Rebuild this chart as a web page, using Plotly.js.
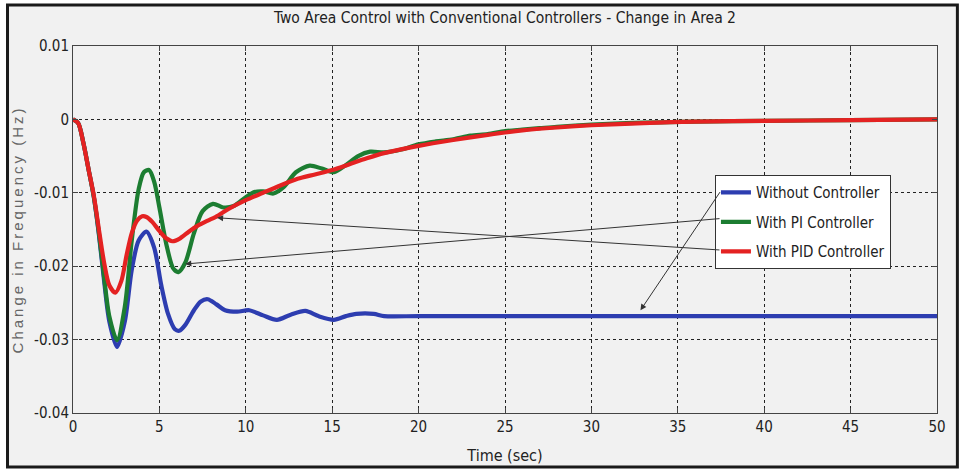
<!DOCTYPE html>
<html><head><meta charset="utf-8">
<script src="https://cdn.plot.ly/plotly-3.0.1.min.js"></script>
<style>html,body{margin:0;padding:0;background:#fff;} #chart{width:963px;height:472px;}</style>
</head><body><div id="chart"></div>
<script>
// ---- data ----
const seriesNames = ["Without Controller", "With PI Controller", "With PID Controller"];

const tBlue = [0,0.3,0.6,0.9,1.2,1.5,1.8,2.1,2.55,3.0,3.4,3.8,4.25,4.7,5.1,5.5,5.9,6.15,6.5,7.0,7.4,7.8,8.3,8.8,9.5,10.2,11,11.8,12.6,13.45,14.2,15.1,15.8,16.4,17.4,18,20,25,30,35,40,45,50];
const yBlue = [0,-0.0005,-0.0032,-0.0068,-0.0105,-0.0157,-0.0220,-0.0275,-0.0310,-0.0275,-0.0205,-0.0165,-0.0153,-0.0175,-0.0225,-0.0265,-0.0286,-0.0288,-0.0280,-0.0260,-0.0248,-0.0245,-0.0252,-0.0260,-0.0262,-0.0260,-0.0267,-0.0273,-0.0266,-0.0261,-0.0268,-0.0273,-0.0268,-0.0265,-0.0265,-0.0268,-0.0268,-0.0268,-0.0268,-0.0268,-0.0268,-0.0268,-0.0268];

const tPI = [0,0.3,0.6,0.9,1.2,1.5,1.8,2.1,2.55,3.0,3.4,3.8,4.1,4.4,4.7,5.0,5.4,5.8,6.1,6.5,7.0,7.5,8.1,8.7,9.3,10,10.5,11,11.6,12.2,12.9,13.7,14.4,15.1,15.8,16.5,17.2,18,19,20,21,22,23,24,25,26,27,28,30,32,34,36,40,45,50];
const yPI = [0,-0.0005,-0.0032,-0.0068,-0.0105,-0.0155,-0.0215,-0.0268,-0.0301,-0.0255,-0.0165,-0.0095,-0.0072,-0.0069,-0.0085,-0.0120,-0.0170,-0.0203,-0.0208,-0.0195,-0.0155,-0.0125,-0.0115,-0.0120,-0.0118,-0.0106,-0.0099,-0.0098,-0.0101,-0.0092,-0.0072,-0.0063,-0.0067,-0.0072,-0.0062,-0.0050,-0.0044,-0.0045,-0.0041,-0.0034,-0.0030,-0.0027,-0.0022,-0.0020,-0.0016,-0.0014,-0.0012,-0.0010,-0.0007,-0.0005,-0.0004,-0.0003,-0.0002,-0.0001,0];

const tPID = [0,0.3,0.6,0.9,1.2,1.5,1.8,2.1,2.45,2.8,3.1,3.4,3.7,4.0,4.25,4.6,5.0,5.4,5.75,6.2,6.7,7.2,7.8,8.4,9,10,11,12,13,14,15,16,17,18,20,22,24,26,28,30,33,36,40,45,50];
const yPID = [0,-0.0005,-0.0032,-0.0068,-0.0103,-0.0150,-0.0195,-0.0226,-0.0236,-0.0220,-0.0185,-0.0155,-0.0138,-0.0132,-0.0133,-0.0140,-0.0152,-0.0162,-0.0166,-0.0162,-0.0153,-0.0145,-0.0138,-0.0131,-0.0122,-0.0110,-0.0100,-0.0090,-0.0081,-0.0075,-0.0069,-0.0061,-0.0053,-0.0046,-0.0036,-0.0028,-0.0021,-0.0015,-0.0011,-0.0008,-0.0005,-0.0003,-0.0002,-0.0001,0];

const xTickVals = [0,5,10,15,20,25,30,35,40,45,50];
const xTickText = ["0","5","10","15","20","25","30","35","40","45","50"];
const yTickVals = [0.01,0,-0.01,-0.02,-0.03,-0.04];
const yTickText = ["0.01","0","-0.01","-0.02","-0.03","-0.04"];

// arrows: [headX, headY, tailX, tailY]
const arrowBlue = [32.84,-0.0260,37.5,-0.0097];
const arrowPI   = [6.5,-0.0197,37.5,-0.0135];
const arrowPID  = [8.34,-0.0134,37.5,-0.0178];

// ---- chart ----
const FONT = "Liberation Sans Narrow, Arial Narrow, DejaVu Sans Condensed, sans-serif";
const colors = ["#2d3db0", "#1c7d31", "#e42222"];

const traces = [
  {x:tBlue, y:yBlue, name:seriesNames[0], legendgroup:"a"},
  {x:tPI,   y:yPI,   name:seriesNames[1], legendgroup:"b"},
  {x:tPID,  y:yPID,  name:seriesNames[2], legendgroup:"c"}
].map((tr,i)=>Object.assign(tr,{type:"scatter",mode:"lines",
  line:{color:colors[i],width:4.2,shape:"spline",smoothing:0.8}}));

function arrow(a){
  return {x:a[0],y:a[1],ax:a[2],ay:a[3],xref:"x",yref:"y",axref:"x",ayref:"y",
    text:"",showarrow:true,arrowhead:2,arrowsize:1.2,arrowwidth:1,arrowcolor:"#333"};
}

const axisCommon = {
  showline:true, linecolor:"#444", linewidth:1, mirror:"ticks",
  ticks:"inside", ticklen:5, tickcolor:"#444",
  showgrid:true, gridcolor:"#222", gridwidth:1, griddash:"3px,3px",
  zeroline:false, tickfont:{family:FONT,size:15,color:"#222"}, automargin:false
};

const layout = {
  width:963, height:472,
  margin:{l:73, r:26, t:46, b:59},
  paper_bgcolor:"#ffffff", plot_bgcolor:"#ffffff",
  title:{text:"Two Area Control with Conventional Controllers - Change in Area 2",
    font:{family:FONT,size:15.5,color:"#222"}, x:0.5, xref:"paper", y:0.962, yanchor:"middle"},
  xaxis:Object.assign({}, axisCommon, {range:[0,50], tickvals:xTickVals, ticktext:xTickText,
    title:{text:"Time (sec)", font:{family:FONT,size:16,color:"#222"}, standoff:14}}),
  yaxis:Object.assign({}, axisCommon, {range:[-0.04,0.01], tickvals:yTickVals, ticktext:yTickText,
    title:{text:"Change in Frequency (Hz)", font:{family:"Liberation Sans, Arial, sans-serif",size:15,color:"#666"}, standoff:6}}),
  showlegend:true,
  legend:{x:0.743, y:0.648, xanchor:"left", yanchor:"top", bgcolor:"#ffffff",
    bordercolor:"#333", borderwidth:1, font:{family:FONT,size:15,color:"#222"},
    traceorder:"grouped", tracegroupgap:7},
  shapes:[{type:"rect", xref:"paper", yref:"paper", x0:-0.0758, x1:1.0236, y0:-0.147, y1:1.1117,
    line:{color:"#1a1a1a", width:3}, fillcolor:"#f1f1f1", layer:"below"}],
  annotations:[arrow(arrowBlue), arrow(arrowPI), arrow(arrowPID)]
};

Plotly.newPlot("chart", traces, layout, {displayModeBar:false, staticPlot:true}).then(()=>{
  const yt = document.querySelector(".ytitle");
  if (yt) yt.style.letterSpacing = "3px";
});
</script>
</body></html>
